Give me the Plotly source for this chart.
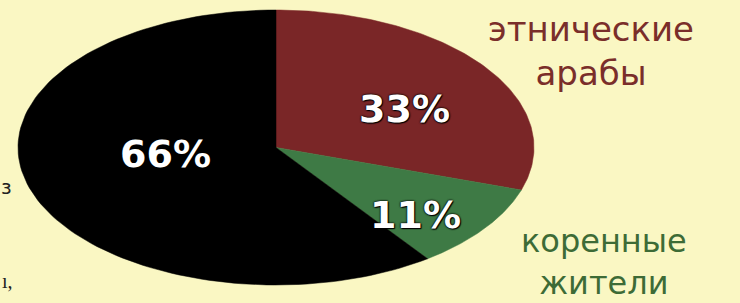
import numpy as np
import plotly.graph_objects as go

# ---- data ----
categories = ["этнические арабы", "коренные жители", "прочие"]
values = [33, 11, 66]
label_lines = [["этнические", "арабы"], ["коренные", "жители"], []]

# ---- style ----
W, H = 740, 303
BG = "#faf7c3"
slice_colors = ["#7a2627", "#3e7a45", "#000000"]
label_colors = ["#7a2e2a", "#3d6b36", "#000000"]
label_sizes = [34, 32, 0]
cx, cy, rx, ry = 276, 147.5, 258, 137.5
pct_pos = [(404, 108.5), (415, 215), (165, 153.5)]
label_pos = [(591, 51), (604, 262), None]

fig = go.Figure()
total = float(sum(values))
start = 0.0
for val, col, name in zip(values, slice_colors, categories):
    span = val / total * 2 * np.pi
    t = np.linspace(start, start + span, 120)
    xs = np.concatenate([[cx], cx + rx * np.sin(t), [cx]])
    ys = np.concatenate([[cy], cy - ry * np.cos(t), [cy]])
    fig.add_trace(go.Scatter(x=xs, y=ys, fill="toself", fillcolor=col,
                             mode="lines", line=dict(color=col, width=0.5),
                             name=name, hoverinfo="name", showlegend=False))
    start += span

annotations = []
for val, (px, py) in zip(values, pct_pos):
    annotations.append(dict(x=px, y=py, xref="x", yref="y", text=f"{val}%",
                            showarrow=False, xanchor="center", yanchor="middle",
                            font=dict(family="DejaVu Sans", size=38, color="white",
                                      weight="bold",
                                      shadow="0 0 2px #000, 0 0 2px #000, 1px 1px 1px #000")))
for lines, pos, col, sz in zip(label_lines, label_pos, label_colors, label_sizes):
    if not lines:
        continue
    annotations.append(dict(x=pos[0], y=pos[1], xref="x", yref="y",
                            text="<br>".join(lines), align="center",
                            showarrow=False, xanchor="center", yanchor="middle",
                            font=dict(family="DejaVu Sans", size=sz, color=col)))

# cut-off text fragments at left edge
annotations.append(dict(x=14, y=187, xref="x", yref="y", text="з", showarrow=False,
                        xanchor="right", yanchor="middle",
                        font=dict(family="DejaVu Sans", size=20, color="#222")))
annotations.append(dict(x=15, y=281, xref="x", yref="y", text="ı,", showarrow=False,
                        xanchor="right", yanchor="middle",
                        font=dict(family="Liberation Serif", size=20, color="#222")))

fig.update_layout(
    width=W, height=H, margin=dict(l=0, r=0, t=0, b=0),
    paper_bgcolor=BG, plot_bgcolor=BG,
    xaxis=dict(range=[0, W], visible=False, fixedrange=True),
    yaxis=dict(range=[H, 0], visible=False, fixedrange=True),
    annotations=annotations,
)
fig.write_html("out.html", config={"displayModeBar": False},
               post_script="document.body.style.margin='0';document.body.style.overflow='hidden';")
